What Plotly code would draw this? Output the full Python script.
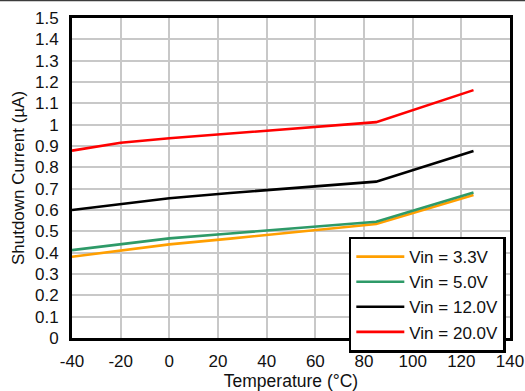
import plotly.graph_objects as go

temps = [-40, -20, 0, 25, 85, 125]
vin_3v3 = [0.381, 0.411, 0.439, 0.466, 0.534, 0.670]
vin_5v0 = [0.412, 0.439, 0.467, 0.490, 0.545, 0.682]
vin_12v0 = [0.600, 0.627, 0.655, 0.680, 0.733, 0.877]
vin_20v0 = [0.878, 0.915, 0.936, 0.958, 1.012, 1.162]

x_ticks = [-40, -20, 0, 20, 40, 60, 80, 100, 120, 140]
x_labels = ["-40", "-20", "0", "20", "40", "60", "80", "100", "120", "140"]

series = [
    ("Vin = 3.3V", vin_3v3, "#FF9F00"),
    ("Vin = 5.0V", vin_5v0, "#2E9A68"),
    ("Vin = 12.0V", vin_12v0, "#000000"),
    ("Vin = 20.0V", vin_20v0, "#FF0000"),
]

W, H = 525, 391
ml, mr, mt, mb = 72, 15, 18, 53

fig = go.Figure()
for name, ys, col in series:
    fig.add_trace(go.Scatter(x=temps, y=ys, mode="lines", name=name,
                             line=dict(color=col, width=2.6)))

fam = "Liberation Sans, Arial, sans-serif"
font = dict(family=fam, size=17, color="#111111")

fig.update_layout(
    width=W, height=H,
    margin=dict(l=ml, r=mr, t=mt, b=mb, autoexpand=False),
    paper_bgcolor="white", plot_bgcolor="white",
    font=font,
    showlegend=True,
    legend=dict(x=0.632, y=0.317, xanchor="left", yanchor="top",
                bgcolor="white", bordercolor="#000000", borderwidth=2.5,
                font=dict(family=fam, size=17, color="#111111"),
                tracegroupgap=0, itemwidth=48),
    xaxis=dict(range=[-40, 140], tickvals=x_ticks, ticktext=x_labels,
               showgrid=True,
               gridcolor="#C8C8C8", gridwidth=1.5, zeroline=False,
               showline=True, linecolor="#000000", linewidth=3, mirror=True,
               ticks="", ticklabelstandoff=6,
               title=dict(text="Temperature (°C)", standoff=5,
                          font=dict(size=17.5)),
               automargin=False),
    yaxis=dict(range=[0, 1.5], tick0=0, dtick=0.1, showgrid=True,
               gridcolor="#C8C8C8", gridwidth=1.5, zeroline=False,
               showline=True, linecolor="#000000", linewidth=3, mirror=True,
               ticks="", ticklabelstandoff=7,
               title=dict(text="Shutdown Current (µA)", standoff=7,
                          font=dict(size=17)),
               automargin=False),
)

ph = H - mt - mb
fig.add_shape(type="line", xref="paper", yref="paper",
              x0=-ml / (W - ml - mr), x1=1 + mr / (W - ml - mr),
              y0=1 + (mt - 0.5) / ph, y1=1 + (mt - 0.5) / ph,
              line=dict(color="#3C3C3C", width=1.5))

fig.write_html("out.html")
